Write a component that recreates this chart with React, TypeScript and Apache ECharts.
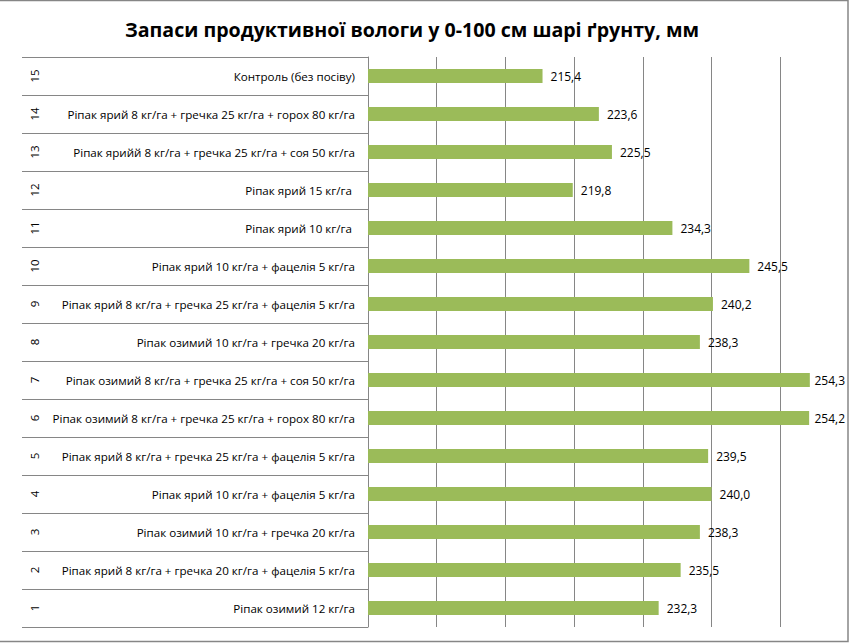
import React, { useEffect, useRef } from "react";
import * as echarts from "echarts";

const titleText = "Запаси продуктивної вологи у 0-100 см шарі ґрунту, мм";

// bottom-to-top order (variant 1 at the bottom)
const variantNumbers = ["1", "2", "3", "4", "5", "6", "7", "8", "9", "10", "11", "12", "13", "14", "15"];

const variantNames = [
  "Ріпак озимий 12 кг/га",
  "Ріпак ярий 8 кг/га + гречка 20 кг/га + фацелія 5 кг/га",
  "Ріпак озимий 10 кг/га + гречка 20 кг/га",
  "Ріпак ярий 10 кг/га + фацелія 5 кг/га",
  "Ріпак ярий 8 кг/га + гречка 25 кг/га + фацелія 5 кг/га",
  "Ріпак озимий 8 кг/га + гречка 25 кг/га + горох 80 кг/га",
  "Ріпак озимий 8 кг/га + гречка 25 кг/га + соя 50 кг/га",
  "Ріпак озимий 10 кг/га + гречка 20 кг/га",
  "Ріпак ярий 8 кг/га + гречка 25 кг/га + фацелія 5 кг/га",
  "Ріпак ярий 10 кг/га + фацелія 5 кг/га",
  "Ріпак ярий 10 кг/га ",
  "Ріпак ярий 15 кг/га ",
  "Ріпак ярийй 8 кг/га + гречка 25 кг/га + соя 50 кг/га",
  "Ріпак ярий 8 кг/га + гречка 25 кг/га + горох 80 кг/га",
  "Контроль (без посіву)",
];

const moistureValues = [232.3, 235.5, 238.3, 240.0, 239.5, 254.2, 254.3, 238.3, 240.2, 245.5, 234.3, 219.8, 225.5, 223.6, 215.4];

const FONT = "'Open Sans', 'Noto Sans', sans-serif";
const GRAY = "#868686";

export default function App() {
  const ref = useRef<HTMLDivElement>(null);

  useEffect(() => {
    if (!ref.current) return;
    const chart = echarts.init(ref.current, undefined, { renderer: "svg" });
    chart.setOption({
      animation: false,
      backgroundColor: "#ffffff",
      title: {
        text: titleText,
        left: 407,
        top: 14,
        textAlign: "center",
        textStyle: { fontFamily: FONT, fontSize: 19.6, fontWeight: "bold", color: "#000" },
      },
      graphic: [
        {
          type: "rect",
          shape: { x: -5, y: 0.5, width: 853, height: 641 },
          style: { fill: "none", stroke: GRAY, lineWidth: 1.5 },
          silent: true,
          z: 100,
        },
      ],
      grid: { left: 368, top: 57, width: 481, height: 570, containLabel: false },
      xAxis: {
        type: "value",
        min: 190,
        max: 260,
        interval: 10,
        axisLine: { show: false },
        axisTick: { show: false },
        axisLabel: { show: false },
        splitLine: { show: true, lineStyle: { color: GRAY, width: 1 } },
      },
      yAxis: [
        {
          type: "category",
          data: variantNames,
          position: "left",
          axisLine: { show: true, lineStyle: { color: GRAY, width: 1 } },
          axisTick: { show: true, length: 346, lineStyle: { color: GRAY, width: 1 } },
          axisLabel: { margin: 13, fontFamily: FONT, fontSize: 11.6, color: "#000" },
        },
        {
          type: "category",
          data: variantNumbers,
          position: "left",
          axisLine: { show: false },
          axisTick: { show: false },
          axisLabel: { rotate: 90, margin: 328, fontFamily: FONT, fontSize: 11.5, color: "#000" },
        },
      ],
      series: [
        {
          type: "bar",
          yAxisIndex: 0,
          data: moistureValues,
          barWidth: 14,
          itemStyle: { color: "#9BBB59" },
          label: {
            show: true,
            position: "right",
            distance: 8,
            fontFamily: FONT,
            fontSize: 12,
            color: "#000",
            formatter: (p: any) => Number(p.value).toFixed(1).replace(".", ","),
          },
          labelLayout: (params: any) => {
            const r = params.labelRect;
            if (r.x + r.width > 845) {
              return { x: 845 - r.width, y: r.y + r.height / 2, align: "left", verticalAlign: "middle" };
            }
            return {};
          },
        },
      ],
    });
    return () => chart.dispose();
  }, []);

  return <div ref={ref} style={{ position: "fixed", left: 0, top: 0, width: 849, height: 643 }} />;
}
